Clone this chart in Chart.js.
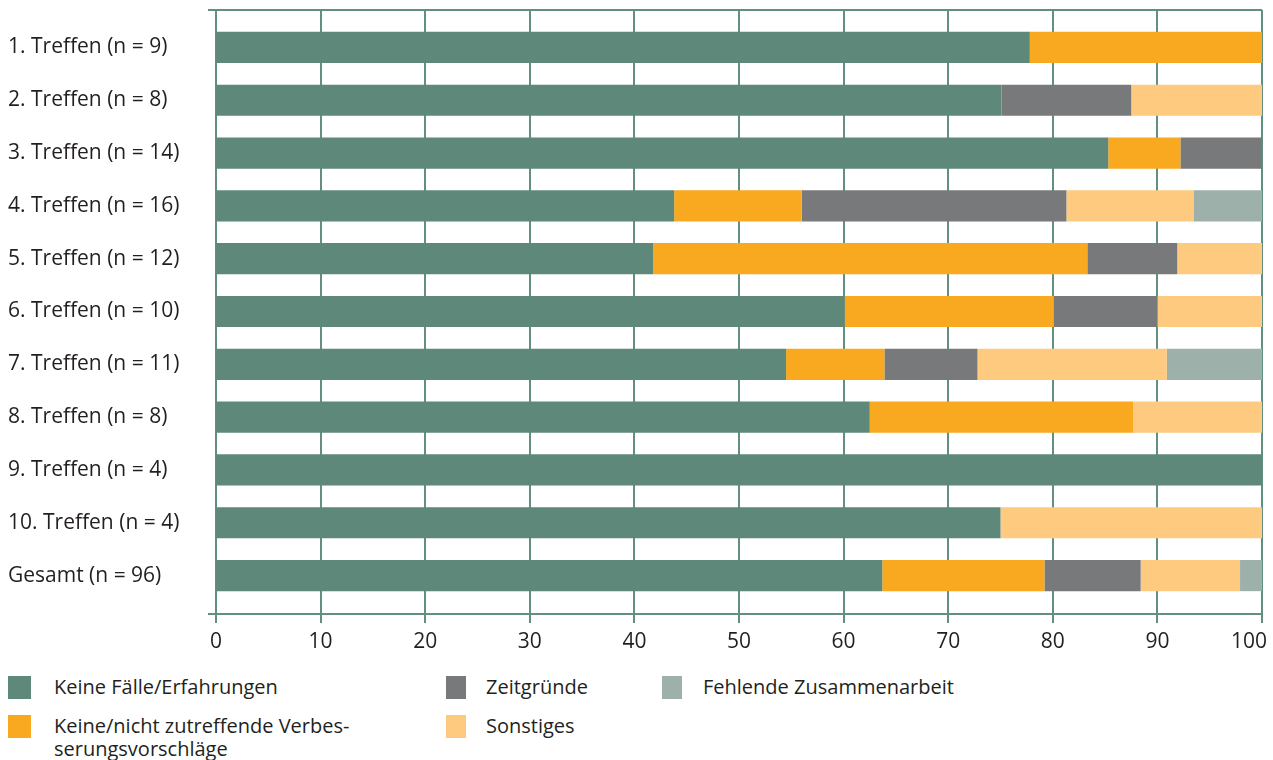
<!DOCTYPE html>
<html lang="de">
<head>
<meta charset="utf-8">
<script src="https://cdn.jsdelivr.net/npm/chart.js@4/dist/chart.umd.min.js"></script>
<style>
  html, body { margin: 0; padding: 0; background: #fff; }
  body { width: 1273px; height: 760px; position: relative; overflow: hidden; font-family: "Open Sans", sans-serif; color: #231f20; }
  #chart-wrap { position: absolute; left: 0; top: 0; width: 1273px; height: 660px; }
  .legend-item { position: absolute; font-size: 20px; line-height: 23px; }
  .legend-item .box { position: absolute; left: 0; top: 0; width: 23px; height: 23px; }
  .legend-item .txt { position: absolute; top: 0; white-space: nowrap; }
</style>
</head>
<body>
<div id="chart-wrap"><canvas id="chart"></canvas></div>
<div id="legend"></div>
<script>
const categories = [
    '1. Treffen (n = 9)', '2. Treffen (n = 8)', '3. Treffen (n = 14)', '4. Treffen (n = 16)',
    '5. Treffen (n = 12)', '6. Treffen (n = 10)', '7. Treffen (n = 11)', '8. Treffen (n = 8)',
    '9. Treffen (n = 4)', '10. Treffen (n = 4)', 'Gesamt (n = 96)'
];

// Anteile in Prozent je Treffen
const keineFaelle      = [77.8, 75.1, 85.3, 43.8, 41.8, 60.1, 54.5, 62.5, 100, 75, 63.7];
const keineVorschlaege = [22.2, 0, 6.9, 12.2, 41.5, 20.0, 9.4, 25.2, 0, 0, 15.5];
const zeitgruende      = [0, 12.4, 7.8, 25.3, 8.6, 9.9, 8.9, 0, 0, 0, 9.2];
const sonstiges        = [0, 12.5, 0, 12.2, 8.1, 10.0, 18.1, 12.3, 0, 25, 9.5];
const fehlendeZusammen = [0, 0, 0, 6.5, 0, 0, 9.1, 0, 0, 0, 2.1];

const xTicks = [0, 10, 20, 30, 40, 50, 60, 70, 80, 90, 100];

const colors = {
    green: '#5e887a',
    orange: '#f9a91f',
    gray: '#78797b',
    lightOrange: '#fdca80',
    teal: '#9db0a9',
    grid: '#62907f',
    text: '#231f20'
};

const series = [
    { label: 'Keine Fälle/Erfahrungen', data: keineFaelle, color: colors.green },
    { label: 'Keine/nicht zutreffende Verbes-\nserungsvorschläge', data: keineVorschlaege, color: colors.orange },
    { label: 'Zeitgründe', data: zeitgruende, color: colors.gray },
    { label: 'Sonstiges', data: sonstiges, color: colors.lightOrange },
    { label: 'Fehlende Zusammenarbeit', data: fehlendeZusammen, color: colors.teal }
];

// frame, gridlines and tick marks extend a bit past the bar area
const gridPlugin = {
    id: 'frameGrid',
    beforeDatasetsDraw(chart) {
        const { ctx, chartArea, scales } = chart;
        const top = chartArea.top - 11;
        const axisY = chartArea.bottom + 12;
        const tickEnd = axisY + 9;
        ctx.save();
        ctx.strokeStyle = colors.grid;
        ctx.lineWidth = 2;
        xTicks.forEach(v => {
            const x = Math.round(scales.x.getPixelForValue(v));
            ctx.beginPath();
            ctx.moveTo(x, top);
            ctx.lineTo(x, tickEnd);
            ctx.stroke();
        });
        [top, axisY].forEach(y => {
            ctx.beginPath();
            ctx.moveTo(chartArea.left - 8, y);
            ctx.lineTo(chartArea.right, y);
            ctx.stroke();
        });
        ctx.restore();
    },
    // x labels drawn by hand so the last one stays inside the canvas
    afterDraw(chart) {
        const { ctx, chartArea, scales, width } = chart;
        ctx.save();
        ctx.font = '21px "Open Sans"';
        ctx.fillStyle = colors.text;
        ctx.textAlign = 'center';
        ctx.textBaseline = 'middle';
        const y = chartArea.bottom + 40;
        xTicks.forEach(v => {
            const label = String(v);
            const w = ctx.measureText(label).width;
            let x = scales.x.getPixelForValue(v);
            x = Math.min(x, width - 6 - w / 2);
            ctx.fillText(label, x, y);
        });
        ctx.restore();
    }
};

const ctx = document.getElementById('chart').getContext('2d');
new Chart(ctx, {
    type: 'bar',
    data: {
        labels: categories,
        datasets: series.map(s => ({
            label: s.label,
            data: s.data,
            backgroundColor: s.color,
            borderWidth: 0,
            categoryPercentage: 1,
            barPercentage: 0.59
        }))
    },
    options: {
        indexAxis: 'y',
        responsive: true,
        maintainAspectRatio: false,
        animation: false,
        layout: { padding: { left: 8, right: 11, top: 21, bottom: 0 } },
        plugins: {
            legend: { display: false },
            tooltip: { enabled: false }
        },
        scales: {
            x: {
                stacked: true,
                min: 0,
                max: 100,
                afterBuildTicks: scale => { scale.ticks = xTicks.map(v => ({ value: v })); },
                afterFit: scale => {
                    scale.height = 58;
                    scale.paddingLeft = 0;
                    scale.paddingRight = 0;
                },
                grid: { display: false, drawTicks: false },
                border: { display: false },
                ticks: { display: false }
            },
            y: {
                stacked: true,
                afterFit: scale => { scale.width = 208; },
                grid: { display: false },
                border: { display: false },
                ticks: {
                    crossAlign: 'far',
                    color: colors.text,
                    font: { family: 'Open Sans', size: 21 }
                }
            }
        }
    },
    plugins: [gridPlugin]
});

// Legende unterhalb der Grafik
const legendPos = [
    { left: 8, top: 676, textLeft: 46 },
    { left: 8, top: 715, textLeft: 46 },
    { left: 446, top: 676, textLeft: 40 },
    { left: 446, top: 715, textLeft: 40 },
    { left: 662, top: 676, textLeft: 41 }
];
const legend = document.getElementById('legend');
series.forEach((s, i) => {
    const p = legendPos[i];
    const item = document.createElement('div');
    item.className = 'legend-item';
    item.style.left = p.left + 'px';
    item.style.top = p.top + 'px';
    const box = document.createElement('div');
    box.className = 'box';
    box.style.background = s.color;
    box.style.width = (i < 2 ? 23 : 20) + 'px';
    const txt = document.createElement('div');
    txt.className = 'txt';
    txt.style.left = p.textLeft + 'px';
    txt.style.top = '-1px';
    txt.innerHTML = s.label.split('\n').join('<br>');
    item.appendChild(box);
    item.appendChild(txt);
    legend.appendChild(item);
});
</script>
</body>
</html>
